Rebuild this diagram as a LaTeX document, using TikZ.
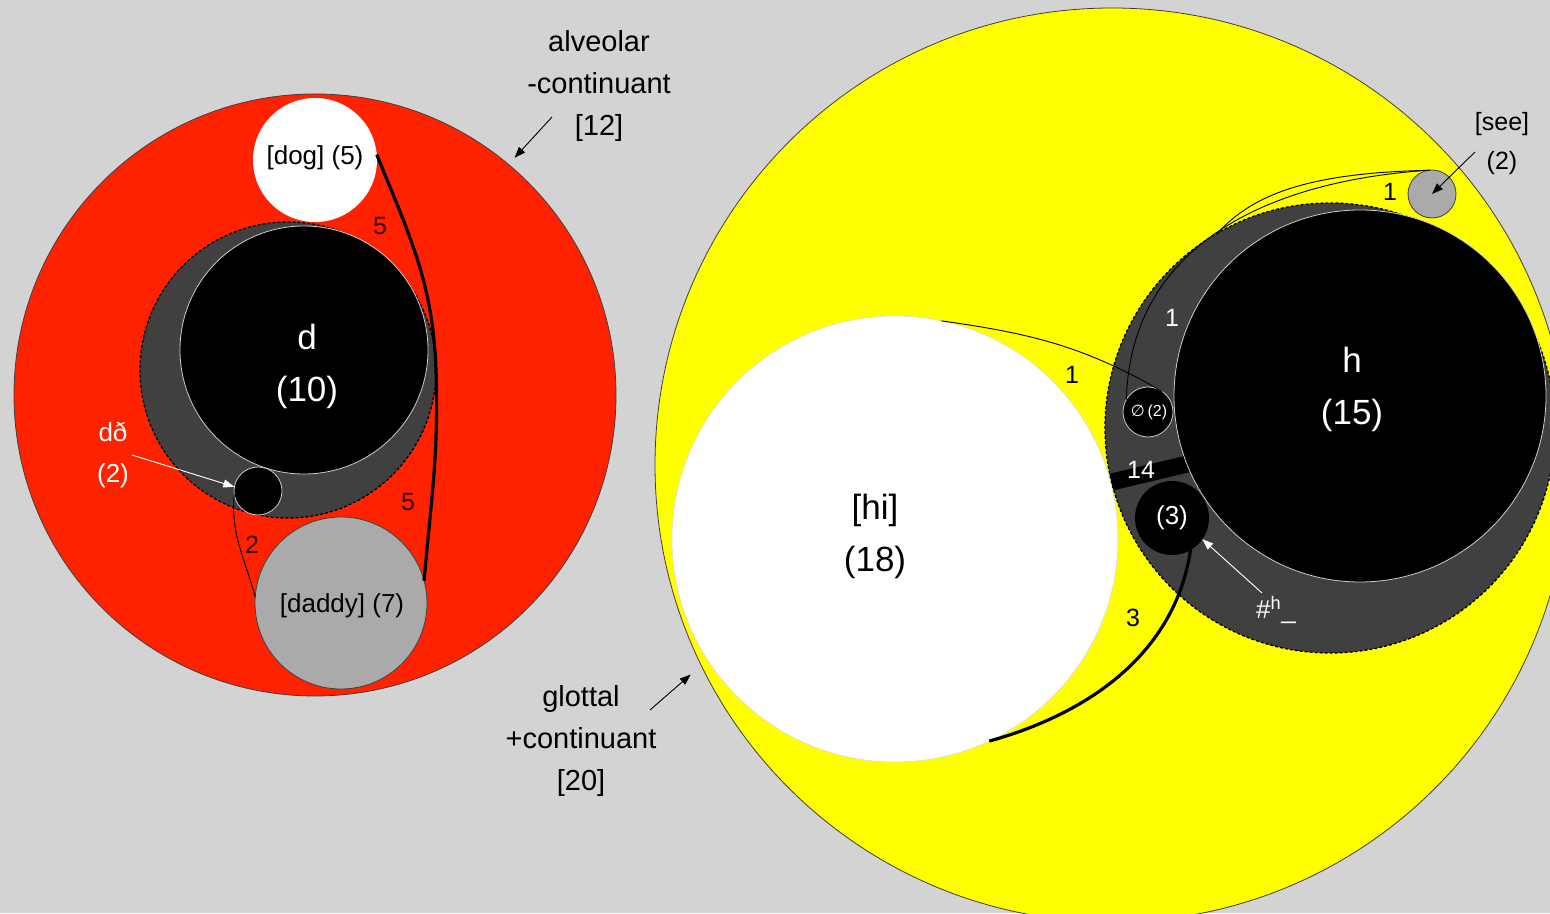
\documentclass[tikz,border=0pt]{standalone}
\usepackage{fontspec}
\setmainfont{Liberation Sans}
\newfontfamily\symfont{DejaVu Sans}
\usetikzlibrary{arrows.meta}
\definecolor{bg}{RGB}{211,211,211}
\definecolor{redfill}{RGB}{255,34,0}
\definecolor{yel}{RGB}{255,255,0}
\definecolor{dark}{RGB}{64,64,64}
\definecolor{lgray}{RGB}{170,170,170}
\definecolor{numred}{RGB}{60,0,0}

\begin{document}
\begin{tikzpicture}[x=1pt,y=1pt,
  disc/.style={circle,inner sep=0pt,outer sep=0pt,minimum size=#1},
  rim/.style={draw=black!75,line width=0.8pt},
  whiterim/.style={draw=white!80!black,line width=0.8pt},
  dashrim/.style={draw=black,line width=1.3pt,dash pattern=on 3pt off 2pt},
  txt/.style={font=\fontsize{26}{31}\selectfont,inner sep=0pt},
  bigtxt/.style={font=\fontsize{35}{52}\selectfont,inner sep=0pt,align=center},
  captxt/.style={font=\fontsize{29}{42}\selectfont,inner sep=0pt,align=center},
  numtxt/.style={font=\fontsize{25}{30}\selectfont,inner sep=0pt},
  pointer/.style={line width=0.9pt,-{Triangle[length=11pt,width=8pt]}},
  thinlink/.style={line width=0.9pt},
  thicklink/.style={line width=3.2pt},
]
\fill[bg] (0,0) rectangle (1550,913);
\clip (0,0) rectangle (1550,913);

% ---- left group: alveolar -continuant ----
\node[disc=602pt,fill=redfill,rim] (red) at (315,518) {};
\node[disc=124pt,fill=white] (dog) at (315,753) {};
\node[disc=296pt,fill=dark,dashrim] (darkL) at (288,543) {};
\node[disc=248pt,fill=black,whiterim] (dblk) at (304,563) {};
\node[disc=48pt,fill=black,whiterim] (dd) at (258,422) {};
\node[disc=172pt,fill=lgray,rim] (daddy) at (341,310) {};

\draw[thicklink] (dog.5) to[out=-68,in=92] (darkL.east);
\draw[thicklink] (darkL.east) to[out=-88,in=85] (daddy.15);
\draw[thinlink] (dd.188) to[out=-95,in=105] (daddy.176);

\node[txt] (doglbl) at (315,755) {[dog] (5)};
\node[txt] (daddylbl) at (342,307) {[daddy] (7)};
\node[bigtxt,text=white] (dlbl) at (307,547) {d\\(10)};
\node[txt,text=white,align=center,font=\fontsize{26}{41}\selectfont] (ddlbl) at (113,458) {dð\\(2)};
\draw[pointer,draw=white,fill=white] (132,458) -- (dd.170);
\node[numtxt,text=numred] (n5a) at (380,687) {5};
\node[numtxt,text=numred] (n5b) at (408,411) {5};
\node[numtxt,text=numred] (n2) at (252,368) {2};

\node[captxt] (alv) at (599,827) {alveolar\\-continuant\\{}[12]};
\coordinate (alvtail) at (552,796);
\draw[pointer,shorten >=9pt] (alvtail) -- (red.50);

% ---- right group: glottal +continuant ----
\node[disc=914pt,fill=yel,rim] (yellow) at (1112,448) {};
\node[disc=446pt,fill=white,draw=white!85!black,line width=0.6pt] (hi) at (895,374) {};
\node[disc=450pt,fill=dark,dashrim] (darkR) at (1330,485) {};
\begin{scope}
  \clip (1330,485) circle (225);
  \draw[line width=17pt] (1095,427) -- (1200,452);
\end{scope}
\node[disc=372pt,fill=black,whiterim] (hblk) at (1360,517) {};
\node[disc=50pt,fill=black,whiterim] (empty) at (1148,501) {};
\node[disc=74pt,fill=black] (three) at (1172,395) {};
\node[disc=48pt,fill=lgray,rim] (see) at (1432,719) {};

\draw[thinlink] (see.100) .. controls (1300,740) and (1250,715) .. (darkR.120);
\draw[thinlink] (see.95) .. controls (1240,730) and (1130,650) .. (empty.150);
\draw[thinlink] (hi.78) to[out=-8,in=150] (empty.55);
\draw[thicklink] (hi.-65) .. controls (1090,200) and (1175,260) .. (three.-60);

\node[bigtxt] (hilbl) at (875,377) {[hi]\\(18)};
\node[bigtxt,text=white] (hlbl) at (1352,524) {h\\(15)};
\node[font=\fontsize{16}{19}\selectfont,text=white,inner sep=0pt] (emptylbl) at (1149,501) {{\symfont ∅}\,(2)};
\node[txt,text=white] (threelbl) at (1172,395) {(3)};
\node[numtxt,text=white] (n14) at (1141,443) {14};
\node[numtxt] (n1a) at (1390,721) {1};
\node[numtxt,text=white] (n1b) at (1172,595) {1};
\node[numtxt] (n1c) at (1072,538) {1};
\node[numtxt] (n3) at (1133,295) {3};

\node[txt,align=center,font=\fontsize{25}{39}\selectfont] (seelbl) at (1502,769) {{}[see]\\(2)};
\coordinate (seetail) at (1475,761);
\draw[pointer] (seetail) -- (see.center);

\node[txt,text=white] (hashlbl) at (1276,303) {\#\textsuperscript{h}\_};
\coordinate (hashtail) at (1262,320);
\draw[pointer,draw=white,fill=white] (hashtail) -- (three.-35);

\node[captxt] (glot) at (581,172) {glottal\\+continuant\\{}[20]};
\coordinate (glottail) at (650,203);
\draw[pointer,shorten >=14pt] (glottail) -- (yellow.206);
\end{tikzpicture}
\end{document}
